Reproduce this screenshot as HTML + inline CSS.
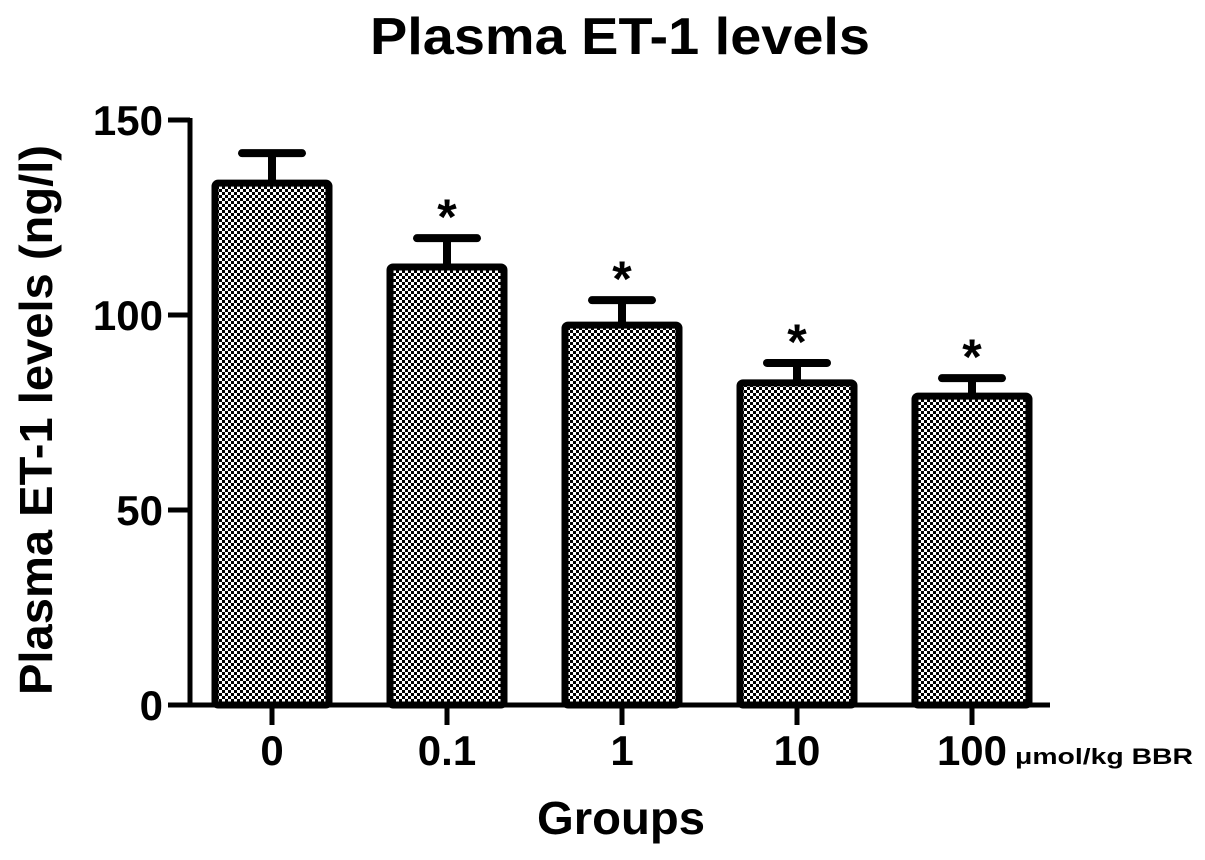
<!DOCTYPE html>
<html><head><meta charset="utf-8"><style>
body{margin:0;background:#fff;}
svg text{font-family:"Liberation Sans",Arial,sans-serif;font-weight:bold;fill:#000;}
</style></head><body>
<svg width="1205" height="855" viewBox="0 0 1205 855">
<defs><pattern id="chk" width="6" height="6" patternUnits="userSpaceOnUse">
<rect width="6" height="6" fill="#fff"/><rect width="3" height="3" fill="#000"/><rect x="3" y="3" width="3" height="3" fill="#000"/></pattern></defs>
<text x="620" y="54" font-size="52" text-anchor="middle" textLength="500" lengthAdjust="spacingAndGlyphs">Plasma ET-1 levels</text>
<text transform="translate(52,420) rotate(-90)" font-size="46" text-anchor="middle" textLength="550" lengthAdjust="spacingAndGlyphs">Plasma ET-1 levels (ng/l)</text>
<text x="621" y="834" font-size="46" text-anchor="middle" textLength="168" lengthAdjust="spacingAndGlyphs">Groups</text>
<text x="1015" y="764" font-size="22" textLength="178" lengthAdjust="spacingAndGlyphs">μmol/kg BBR</text>
<g id="axes"></g><g id="bars"></g>
</svg>
<script>
const categories=["0","0.1","1","10","100"];
const means=[133.8,112.3,97.4,82.6,79.2];
const errors=[7.7,7.4,6.4,5.1,4.6];
const stars=[false,true,true,true,true];
const yTicks=[0,50,100,150];
const NS="http://www.w3.org/2000/svg";
const y=v=>705-v*3.9;
const x=i=>272+i*175;
function mk(tag,attrs,parent){const e=document.createElementNS(NS,tag);for(const k in attrs)e.setAttribute(k,attrs[k]);parent.appendChild(e);return e;}
const ax=document.getElementById('axes'),bg=document.getElementById('bars');
let l=mk('line',{x1:190,y1:y(150)-2,x2:190,y2:y(0)+2,stroke:'#000','stroke-width':5},ax);


l=mk('line',{x1:188,y1:y(0),x2:1050,y2:y(0),stroke:'#000','stroke-width':5},ax);


yTicks.forEach(t=>{
 const tk=mk('line',{x1:168,y1:y(t),x2:190,y2:y(t),stroke:'#000','stroke-width':5},ax);
 
 
 const tx=mk('text',{x:163,y:y(t)+15,'font-size':42,'text-anchor':'end'},ax);tx.textContent=t;
 
 
});
categories.forEach((c,i)=>{
 const cx=x(i);
 const tk=mk('line',{x1:cx,y1:y(0),x2:cx,y2:y(0)+20,stroke:'#000','stroke-width':5},ax);
 
 
 const tx=mk('text',{x:cx,y:765,'font-size':42,'text-anchor':'middle'},ax);tx.textContent=c;
 
 
 const top=y(means[i]+errors[i]);
 const st=mk('line',{x1:cx,y1:top,x2:cx,y2:y(means[i]),stroke:'#000','stroke-width':8},bg);
 
 
 const cap=mk('line',{x1:cx-30,y1:top,x2:cx+30,y2:top,stroke:'#000','stroke-width':8,'stroke-linecap':'round'},bg);
 
 
 const r=mk('rect',{x:cx-57,y:y(means[i]),width:114,height:y(0)-y(means[i]),fill:'url(#chk)',stroke:'#000','stroke-width':7,rx:3},bg);
 
 
 if(stars[i]){
  const s=mk('text',{x:cx,y:top-4,'font-size':50,'text-anchor':'middle'},bg);s.textContent='*';
  
  
 }
});
</script>
</body></html>
